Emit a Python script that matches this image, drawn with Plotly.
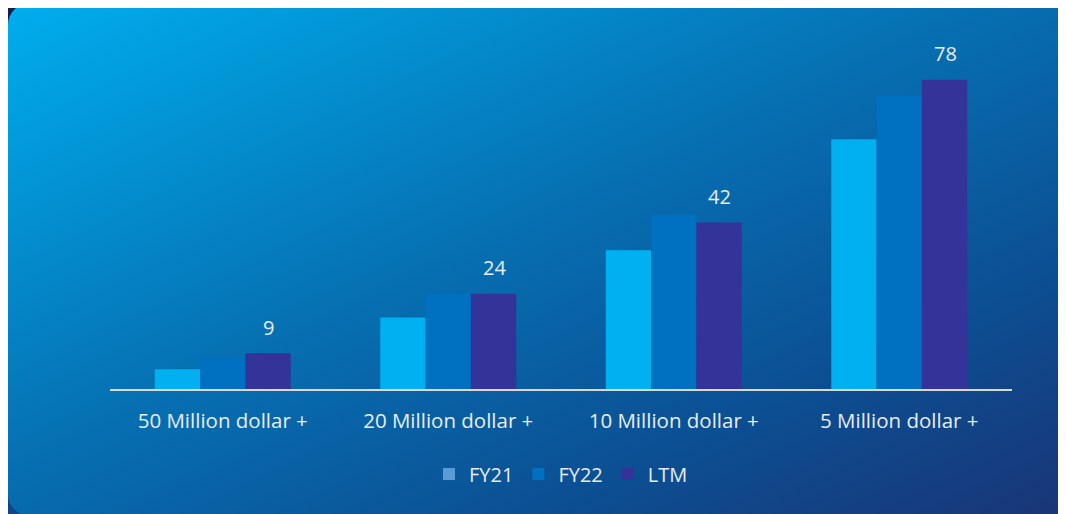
import base64
import plotly.graph_objects as go

categories = ["50 Million dollar +", "20 Million dollar +", "10 Million dollar +", "5 Million dollar +"]
fy21 = [5, 18, 35, 63]
fy22 = [8, 24, 44, 74]
ltm = [9, 24, 42, 78]

W, H = 1066, 514
OFF = 8  # page body margin offset
ML, MR, MT, MB = 110 - OFF, 54 + OFF, 50 - OFF, 125 + OFF
PW, PH = W - ML - MR, H - MT - MB

FONT = "Open Sans, Noto Sans, sans-serif"
TXT = "#E6EDF5"

svg = f'''<svg xmlns="http://www.w3.org/2000/svg" width="{W}" height="{H}" viewBox="0 0 {W} {H}" preserveAspectRatio="none">
<defs>
<linearGradient id="o" x1="0" y1="0" x2="0.3" y2="1">
<stop offset="0" stop-color="#131E50"/><stop offset="1" stop-color="#124A8C"/></linearGradient>
<linearGradient id="g" x1="0" y1="0" x2="1" y2="1">
<stop offset="0" stop-color="#00AEEE"/><stop offset="0.45" stop-color="#0670B2"/><stop offset="0.75" stop-color="#0C4E92"/><stop offset="1" stop-color="#1A3475"/></linearGradient>
</defs>
<rect x="0" y="0" width="{W}" height="{H}" fill="url(#o)"/>
<rect x="0" y="-5" width="1080" height="513" rx="22" ry="22" fill="url(#g)"/>
</svg>'''
src = "data:image/svg+xml;base64," + base64.b64encode(svg.encode()).decode()

fig = go.Figure()
fig.add_bar(x=categories, y=fy21, name="FY21", marker_color="#00B0F0", showlegend=False, offsetgroup="a")
fig.add_bar(x=categories, y=fy22, name="FY22", marker_color="#0070C0", offsetgroup="b")
fig.add_bar(x=categories, y=ltm, name="LTM", marker_color="#333399", offsetgroup="c")
# legend swatch for FY21 uses a lighter tone in the reference
fig.add_bar(x=categories, y=[None] * len(categories), name="FY21", marker_color="#5B9BD5",
            legendrank=1, hoverinfo="skip", offsetgroup="a")
for tr in fig.data:
    tr.marker.line.width = 0

for c, v in zip(categories, ltm):
    fig.add_annotation(x=c, y=v, text=str(v), showarrow=False, xshift=46, yshift=26,
                       font=dict(family=FONT, size=20, color=TXT))

fig.update_layout(
    width=W, height=H,
    margin=dict(l=ML, r=MR, t=MT, b=MB),
    paper_bgcolor="#131E50", plot_bgcolor="rgba(0,0,0,0)",
    barmode="group", bargap=0.397, bargroupgap=0,
    font=dict(family=FONT, color=TXT, size=20),
    showlegend=True,
    legend=dict(orientation="h", x=0.5, xanchor="center", y=(MT + PH - (474 - OFF)) / PH, yanchor="middle",
                font=dict(size=20, color=TXT), bgcolor="rgba(0,0,0,0)", itemwidth=30,
                traceorder="normal"),
    xaxis=dict(showline=True, linecolor="#D9D9D9", linewidth=2, ticks="", showgrid=False,
               tickfont=dict(size=20.5, color=TXT), ticklabelstandoff=12, fixedrange=True),
    yaxis=dict(range=[0, PH / 3.966], visible=False, showgrid=False, fixedrange=True),
    images=[dict(source=src, xref="paper", yref="paper", x=-ML / PW, y=1 + MT / PH,
                 sizex=W / PW, sizey=H / PH, sizing="stretch", layer="below",
                 xanchor="left", yanchor="top")],
)
fig.write_html("out.html")
